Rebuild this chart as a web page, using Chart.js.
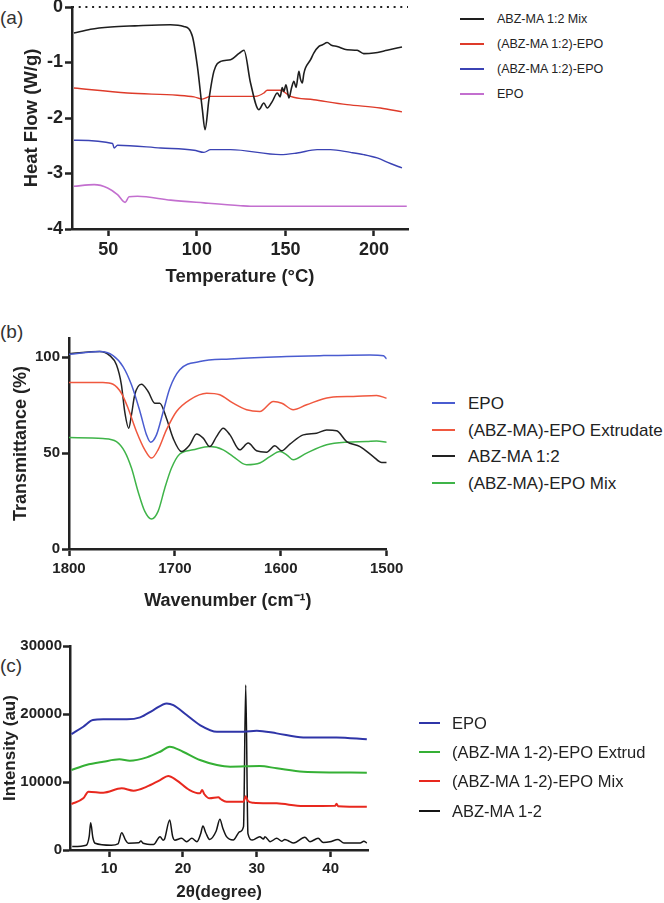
<!DOCTYPE html>
<html>
<head>
<meta charset="utf-8">
<script src="https://cdn.jsdelivr.net/npm/chart.js@4.4.1/dist/chart.umd.min.js"></script>
<style>
    body { margin: 0; background: #fff; width: 664px; height: 903px; position: relative; overflow: hidden; font-family: "Liberation Sans", Arial, sans-serif; }
    canvas { position: absolute; left: 0; }
    .tag { position: absolute; left: 0; font-size: 19px; color: #333; line-height: 1; }
    .leg-line { position: absolute; height: 2px; }
    .leg-text { position: absolute; white-space: nowrap; color: #222; line-height: 1; }
</style>
</head>
<body>
<div class="tag" style="top:8px">(a)</div>
<div class="tag" style="top:322px">(b)</div>
<div class="tag" style="top:656px">(c)</div>
<canvas id="dscChart" width="420" height="302" style="top:-12px"></canvas>
<canvas id="ftirChart" width="420" height="315" style="top:300px"></canvas>
<canvas id="xrdChart" width="420" height="288" style="top:615px"></canvas>
<div id="legends"></div>
<script>
// --------------------------------------------------------------------------
// DATA (a) DSC
// --------------------------------------------------------------------------
const dscNames = ['ABZ-MA 1:2 Mix', '(ABZ-MA 1:2)-EPO', '(ABZ-MA 1:2)-EPO', 'EPO'];
const dscColors = ['#1e1e1e', '#de3b2a', '#3b43b4', '#c36fcf'];
const dscXTicks = [50, 100, 150, 200];
const dscYTicks = [-4, -3, -2, -1, 0];

const dscMixT = [30.6, 40, 51.4, 65, 85, 92.6, 97.5, 100.3, 103.1, 104.6, 106.8, 109.6, 113.4, 119, 124, 126.6, 130.3, 135, 137.8, 139.7, 142.6, 145.4, 147, 148.2, 149.1, 150.3, 152, 153.5, 154.8, 156, 157.6, 158.5, 159.5, 160.4, 161.3, 164.2, 166, 168.9, 171, 173.6, 176, 179.2, 184.8, 190.5, 194.2, 199.8, 207.4, 215.8];
const dscMixY = [-0.47, -0.40, -0.36, -0.34, -0.32, -0.35, -0.53, -1.07, -1.85, -2.21, -1.67, -1.16, -0.98, -0.95, -0.83, -0.78, -1.37, -1.85, -1.73, -1.82, -1.70, -1.55, -1.62, -1.45, -1.52, -1.40, -1.64, -1.45, -1.34, -1.45, -1.16, -1.30, -1.37, -1.20, -1.10, -0.95, -0.83, -0.71, -0.68, -0.64, -0.69, -0.71, -0.77, -0.78, -0.84, -0.83, -0.78, -0.72];
const dscExtT = [30.6, 60.8, 89, 98.4, 103.1, 107.8, 119, 133.2, 137.8, 139.7, 147.2, 152.9, 166, 184.8, 203.6, 215.8];
const dscExtY = [-1.46, -1.55, -1.59, -1.62, -1.66, -1.61, -1.61, -1.61, -1.55, -1.50, -1.50, -1.61, -1.67, -1.76, -1.82, -1.89];
const dscExt2T = [30.6, 52.4, 53.3, 55.2, 79.6, 98.4, 104, 107.8, 119, 147.2, 156.6, 167.9, 175.4, 186.7, 194.2, 201.8, 209.3, 215.8];
const dscExt2Y = [-2.40, -2.46, -2.54, -2.49, -2.54, -2.58, -2.62, -2.57, -2.57, -2.66, -2.63, -2.57, -2.57, -2.62, -2.66, -2.72, -2.82, -2.90];
const dscEpoT = [30.6, 42, 49.6, 55.2, 59.5, 61.7, 66.5, 85.2, 104, 124.7, 130.3, 218.5];
const dscEpoY = [-3.23, -3.20, -3.26, -3.38, -3.52, -3.42, -3.41, -3.48, -3.53, -3.58, -3.59, -3.59];

// --------------------------------------------------------------------------
// DATA (b) FTIR
// --------------------------------------------------------------------------
const ftirNames = ['EPO', '(ABZ-MA)-EPO Extrudate', 'ABZ-MA 1:2', '(ABZ-MA)-EPO Mix'];
const ftirColors = ['#4a5cd0', '#f0583f', '#222222', '#3fb449'];
const ftirXTicks = [1500, 1600, 1700, 1800];
const ftirYTicks = [0, 50, 100];

const ftirEpoW = [1800, 1771, 1758.4, 1749, 1741, 1733, 1726.8, 1723, 1717.4, 1711, 1704.8, 1695.4, 1676.5, 1648, 1594.5, 1563, 1515.8, 1503, 1500];
const ftirEpoT = [101.5, 102.9, 100.8, 95.1, 85.6, 71.7, 59.5, 55.7, 59.5, 71.7, 83.8, 93.4, 97.7, 99.1, 100.3, 100.8, 101.2, 100.7, 99.1];
const ftirExtW = [1800, 1768, 1758.4, 1750.5, 1744.2, 1736.3, 1728.4, 1722, 1715.9, 1708, 1698.5, 1686, 1670, 1657.6, 1645, 1632.3, 1619.8, 1607, 1599, 1588.3, 1575.6, 1553.6, 1531.6, 1509.5, 1500];
const ftirExtT = [86.8, 86.8, 85.9, 81.2, 73.4, 61.3, 51.7, 47.4, 51.7, 62.1, 71.7, 77.8, 81.2, 80.4, 76, 72.6, 71.7, 76.9, 76, 72.6, 75.2, 79, 79.5, 80, 78.6];
const ftirAbzW = [1800, 1771, 1761.5, 1755.2, 1750.5, 1747.4, 1743.6, 1741, 1737.9, 1731.6, 1725.3, 1719, 1714.3, 1708, 1701.7, 1693.8, 1686, 1679.6, 1673.3, 1667, 1660.7, 1654.4, 1648, 1638.7, 1630.8, 1622.9, 1613.4, 1605.6, 1599.3, 1591.4, 1578.8, 1566.2, 1556.7, 1547.3, 1537.8, 1525.2, 1512.7, 1504.7, 1500];
const ftirAbzT = [101.8, 102.9, 100.8, 96, 85.6, 71.7, 63, 70, 80.4, 85.9, 82.1, 76, 76, 68.2, 57.8, 50.8, 54.3, 59.9, 57.8, 53.4, 58.6, 63, 59.5, 51.7, 55.2, 51.2, 50.5, 53.8, 51.2, 54.7, 59.5, 60.4, 62.1, 61.7, 56, 53.4, 48.2, 45.1, 45.1];
const ftirMixW = [1800, 1768, 1755.2, 1747.4, 1741, 1734.8, 1728.4, 1722.1, 1715.9, 1709.5, 1703.2, 1695.4, 1682.8, 1667, 1654.4, 1645, 1632.3, 1619.8, 1610.3, 1600.8, 1594.5, 1588.3, 1575.6, 1556.7, 1537.8, 1518.9, 1509.5, 1500];
const ftirMixT = [58.1, 57.6, 56, 50.8, 42.2, 30, 19.6, 15.6, 19.6, 31.8, 42.2, 49.5, 51.7, 53.4, 51.7, 48.2, 43.9, 44.8, 48.2, 50.8, 49.1, 46.5, 50, 54.3, 55.7, 56, 56.3, 55.7];

// --------------------------------------------------------------------------
// DATA (c) XRD
// --------------------------------------------------------------------------
const xrdNames = ['EPO', '(ABZ-MA 1-2)-EPO Extrud', '(ABZ-MA 1-2)-EPO Mix', 'ABZ-MA 1-2'];
const xrdColors = ['#2f35a8', '#35b035', '#e8281e', '#151515'];
const xrdXTicks = [10, 20, 30, 40];
const xrdYTicks = [0, 10000, 20000, 30000];

const xrdEpoA = [4.9, 6.5, 7.8, 9.2, 12.4, 14.2, 16, 17.8, 18.7, 20.5, 22.3, 24.6, 28.2, 30, 32.7, 36.3, 40.8, 44.9];
const xrdEpoI = [17050, 18130, 19110, 19210, 19210, 19500, 20580, 21560, 21320, 19850, 18380, 17400, 17400, 17540, 17150, 16560, 16560, 16270];
const xrdExtA = [4.9, 6.9, 9.2, 11.4, 12.8, 15.1, 16.9, 18.2, 20, 22.3, 24.6, 26.4, 30.4, 32.7, 36.3, 44.9];
const xrdExtI = [11760, 12500, 12980, 13330, 13130, 13620, 14450, 15190, 14450, 13230, 12500, 12250, 12350, 12010, 11510, 11370];
const xrdMixA = [4.9, 6.5, 7.2, 9.2, 11.7, 13.3, 15.1, 16.9, 18, 19.1, 20.9, 22.3, 22.6, 22.9, 23.6, 24.8, 25.1, 25.9, 28.2, 28.5, 28.8, 29.5, 32.7, 36.3, 40.6, 40.8, 41.0, 44.9];
const xrdMixI = [6760, 7600, 8580, 8430, 9070, 8720, 9310, 10290, 10880, 10290, 8820, 8330, 8820, 8200, 7600, 7750, 7500, 7110, 7110, 7900, 7200, 6960, 6860, 6470, 6500, 6800, 6450, 6370];
const xrdAbzA = [5, 6.9, 7.3, 7.5, 7.8, 8.1, 10.3, 11.2, 11.7, 12.2, 12.6, 14.0, 14.3, 14.6, 16, 16.9, 17.3, 17.5, 18.2, 18.6, 18.9, 19.8, 20.5, 21.2, 21.9, 22.4, 22.7, 23.1, 23.6, 24.5, 25, 25.4, 25.9, 26.8, 27.7, 28.2, 28.5, 28.8, 29.4, 30.4, 30.9, 31.1, 31.8, 32.7, 33.4, 33.8, 34.2, 35, 36.5, 37.2, 38.3, 39, 39.9, 41, 41.8, 44, 44.5, 44.9];
const xrdAbzI = [500, 700, 2000, 4010, 1800, 1000, 700, 900, 2550, 1500, 1000, 1050, 1320, 1000, 800, 1960, 1450, 1600, 4410, 2000, 1450, 1710, 1230, 1710, 1230, 2400, 3530, 2500, 1560, 2800, 4510, 3200, 1960, 1470, 2690, 3430, 24260, 2400, 1470, 1960, 1600, 1960, 1230, 1710, 1300, 1560, 1400, 1030, 1860, 1230, 1710, 1100, 1200, 1560, 1030, 1030, 1300, 1030];

// --------------------------------------------------------------------------
// HELPERS
// --------------------------------------------------------------------------
const FONT = '"Liberation Sans", Arial, sans-serif';
const INK = '#222';

function pts(xs, ys) {
    return xs.map((x, i) => ({ x, y: ys[i] }));
}

function series(label, xs, ys, color, width) {
    return {
        label, data: pts(xs, ys), borderColor: color, borderWidth: width || 1.5,
        pointRadius: 0, cubicInterpolationMode: 'monotone', fill: false
    };
}

function axis(o) {
    return {
        type: 'linear', min: o.min, max: o.max, reverse: !!o.reverse,
        afterBuildTicks: s => { s.ticks = o.ticks.map(v => ({ value: v })); },
        afterFit: s => {
            if (o.width) s.width = o.width;
            if (o.height) s.height = o.height;
        },
        border: { display: true, color: INK, width: 2.5 },
        grid: { drawOnChartArea: false, drawTicks: true, tickLength: 7, tickWidth: 2.5, tickColor: INK },
        ticks: {
            color: INK, padding: o.tickPad, maxRotation: 0, autoSkip: false,
            font: { family: FONT, size: o.tickSize, weight: 'bold' },
            callback: v => String(v)
        },
        title: {
            display: true, text: o.title, color: INK, padding: o.titlePad,
            font: { family: FONT, size: o.titleSize, weight: 'bold' }
        }
    };
}

function makeChart(id, datasets, pad, xOpts, yOpts) {
    return new Chart(document.getElementById(id), {
        type: 'line',
        data: { datasets },
        options: {
            responsive: false, animation: false, events: [],
            layout: { padding: { top: pad.top, right: pad.right, left: 0, bottom: 0 } },
            plugins: { legend: { display: false }, tooltip: { enabled: false } },
            scales: { x: axis(xOpts), y: axis(yOpts) }
        }
    });
}

function buildLegend(names, colors, g) {
    const box = document.getElementById('legends');
    names.forEach((name, i) => {
        const y = Math.round(g.top + i * g.gap);
        const ln = document.createElement('div');
        ln.className = 'leg-line';
        ln.style.cssText = `left:${g.x0}px;width:${g.x1 - g.x0}px;top:${y - 1}px;background:${colors[i]}`;
        box.appendChild(ln);
        const tx = document.createElement('div');
        tx.className = 'leg-text';
        tx.textContent = name;
        tx.style.cssText = `left:${g.tx}px;top:${y - g.size / 2}px;font-size:${g.size}px`;
        box.appendChild(tx);
    });
}

// --------------------------------------------------------------------------
// (a) DSC
// --------------------------------------------------------------------------
makeChart('dscChart', [
    Object.assign(series('zero', [29.5, 219.2], [0, 0], INK, 2), { borderDash: [2, 4.7], clip: 4 }),
    series(dscNames[0], dscMixT, dscMixY, dscColors[0], 1.6),
    series(dscNames[1], dscExtT, dscExtY, dscColors[1], 1.4),
    series(dscNames[2], dscExt2T, dscExt2Y, dscColors[2], 1.4),
    series(dscNames[3], dscEpoT, dscEpoY, dscColors[3], 1.6)
], { top: 19, right: 12 },
    { min: 29.5, max: 219.2, ticks: dscXTicks, height: 61, tickSize: 18, tickPad: 3, title: 'Temperature (°C)', titleSize: 18.5, titlePad: { top: 0, bottom: 2 } },
    { min: -4, max: 0, ticks: dscYTicks, width: 72, tickSize: 18, tickPad: 2, title: 'Heat Flow (W/g)', titleSize: 18.5, titlePad: { top: 21, bottom: 0 } });

// --------------------------------------------------------------------------
// (b) FTIR
// --------------------------------------------------------------------------
makeChart('ftirChart', [
    series(ftirNames[0], ftirEpoW, ftirEpoT, ftirColors[0]),
    series(ftirNames[1], ftirExtW, ftirExtT, ftirColors[1]),
    series(ftirNames[2], ftirAbzW, ftirAbzT, ftirColors[2]),
    series(ftirNames[3], ftirMixW, ftirMixT, ftirColors[3])
], { top: 38, right: 33.3 },
    { min: 1500, max: 1800, reverse: true, ticks: ftirXTicks, height: 66, tickSize: 15, tickPad: 4, title: 'Wavenumber (cm⁻¹)', titleSize: 18, titlePad: { top: 0, bottom: 3 } },
    { min: 0, max: 110, ticks: ftirYTicks, width: 69, tickSize: 15, tickPad: 2, title: 'Transmittance (%)', titleSize: 18, titlePad: { top: 10, bottom: 0 } });

// --------------------------------------------------------------------------
// (c) XRD
// --------------------------------------------------------------------------
makeChart('xrdChart', [
    series(xrdNames[0], xrdEpoA, xrdEpoI, xrdColors[0], 2),
    series(xrdNames[1], xrdExtA, xrdExtI, xrdColors[1], 2),
    series(xrdNames[2], xrdMixA, xrdMixI, xrdColors[2], 2),
    series(xrdNames[3], xrdAbzA, xrdAbzI, xrdColors[3], 1.5)
], { top: 31, right: 51.7 },
    { min: 4.7, max: 45.1, ticks: xrdXTicks, height: 53, tickSize: 15, tickPad: 3, title: '2θ(degree)', titleSize: 17, titlePad: { top: 0, bottom: 0 } },
    { min: 0, max: 30000, ticks: xrdYTicks, width: 70, tickSize: 15, tickPad: 1, title: 'Intensity (au)', titleSize: 17, titlePad: { top: 0, bottom: 0 } });

// --------------------------------------------------------------------------
// LEGENDS
// --------------------------------------------------------------------------
buildLegend(dscNames, dscColors, { x0: 460, x1: 484, tx: 497, top: 19.3, gap: 24.9, size: 12.5 });
buildLegend(ftirNames, ftirColors, { x0: 432, x1: 455, tx: 468, top: 403.3, gap: 26.5, size: 17 });
buildLegend(xrdNames, xrdColors, { x0: 419, x1: 440, tx: 452, top: 722.7, gap: 29.3, size: 16.5 });
</script>
</body>
</html>
